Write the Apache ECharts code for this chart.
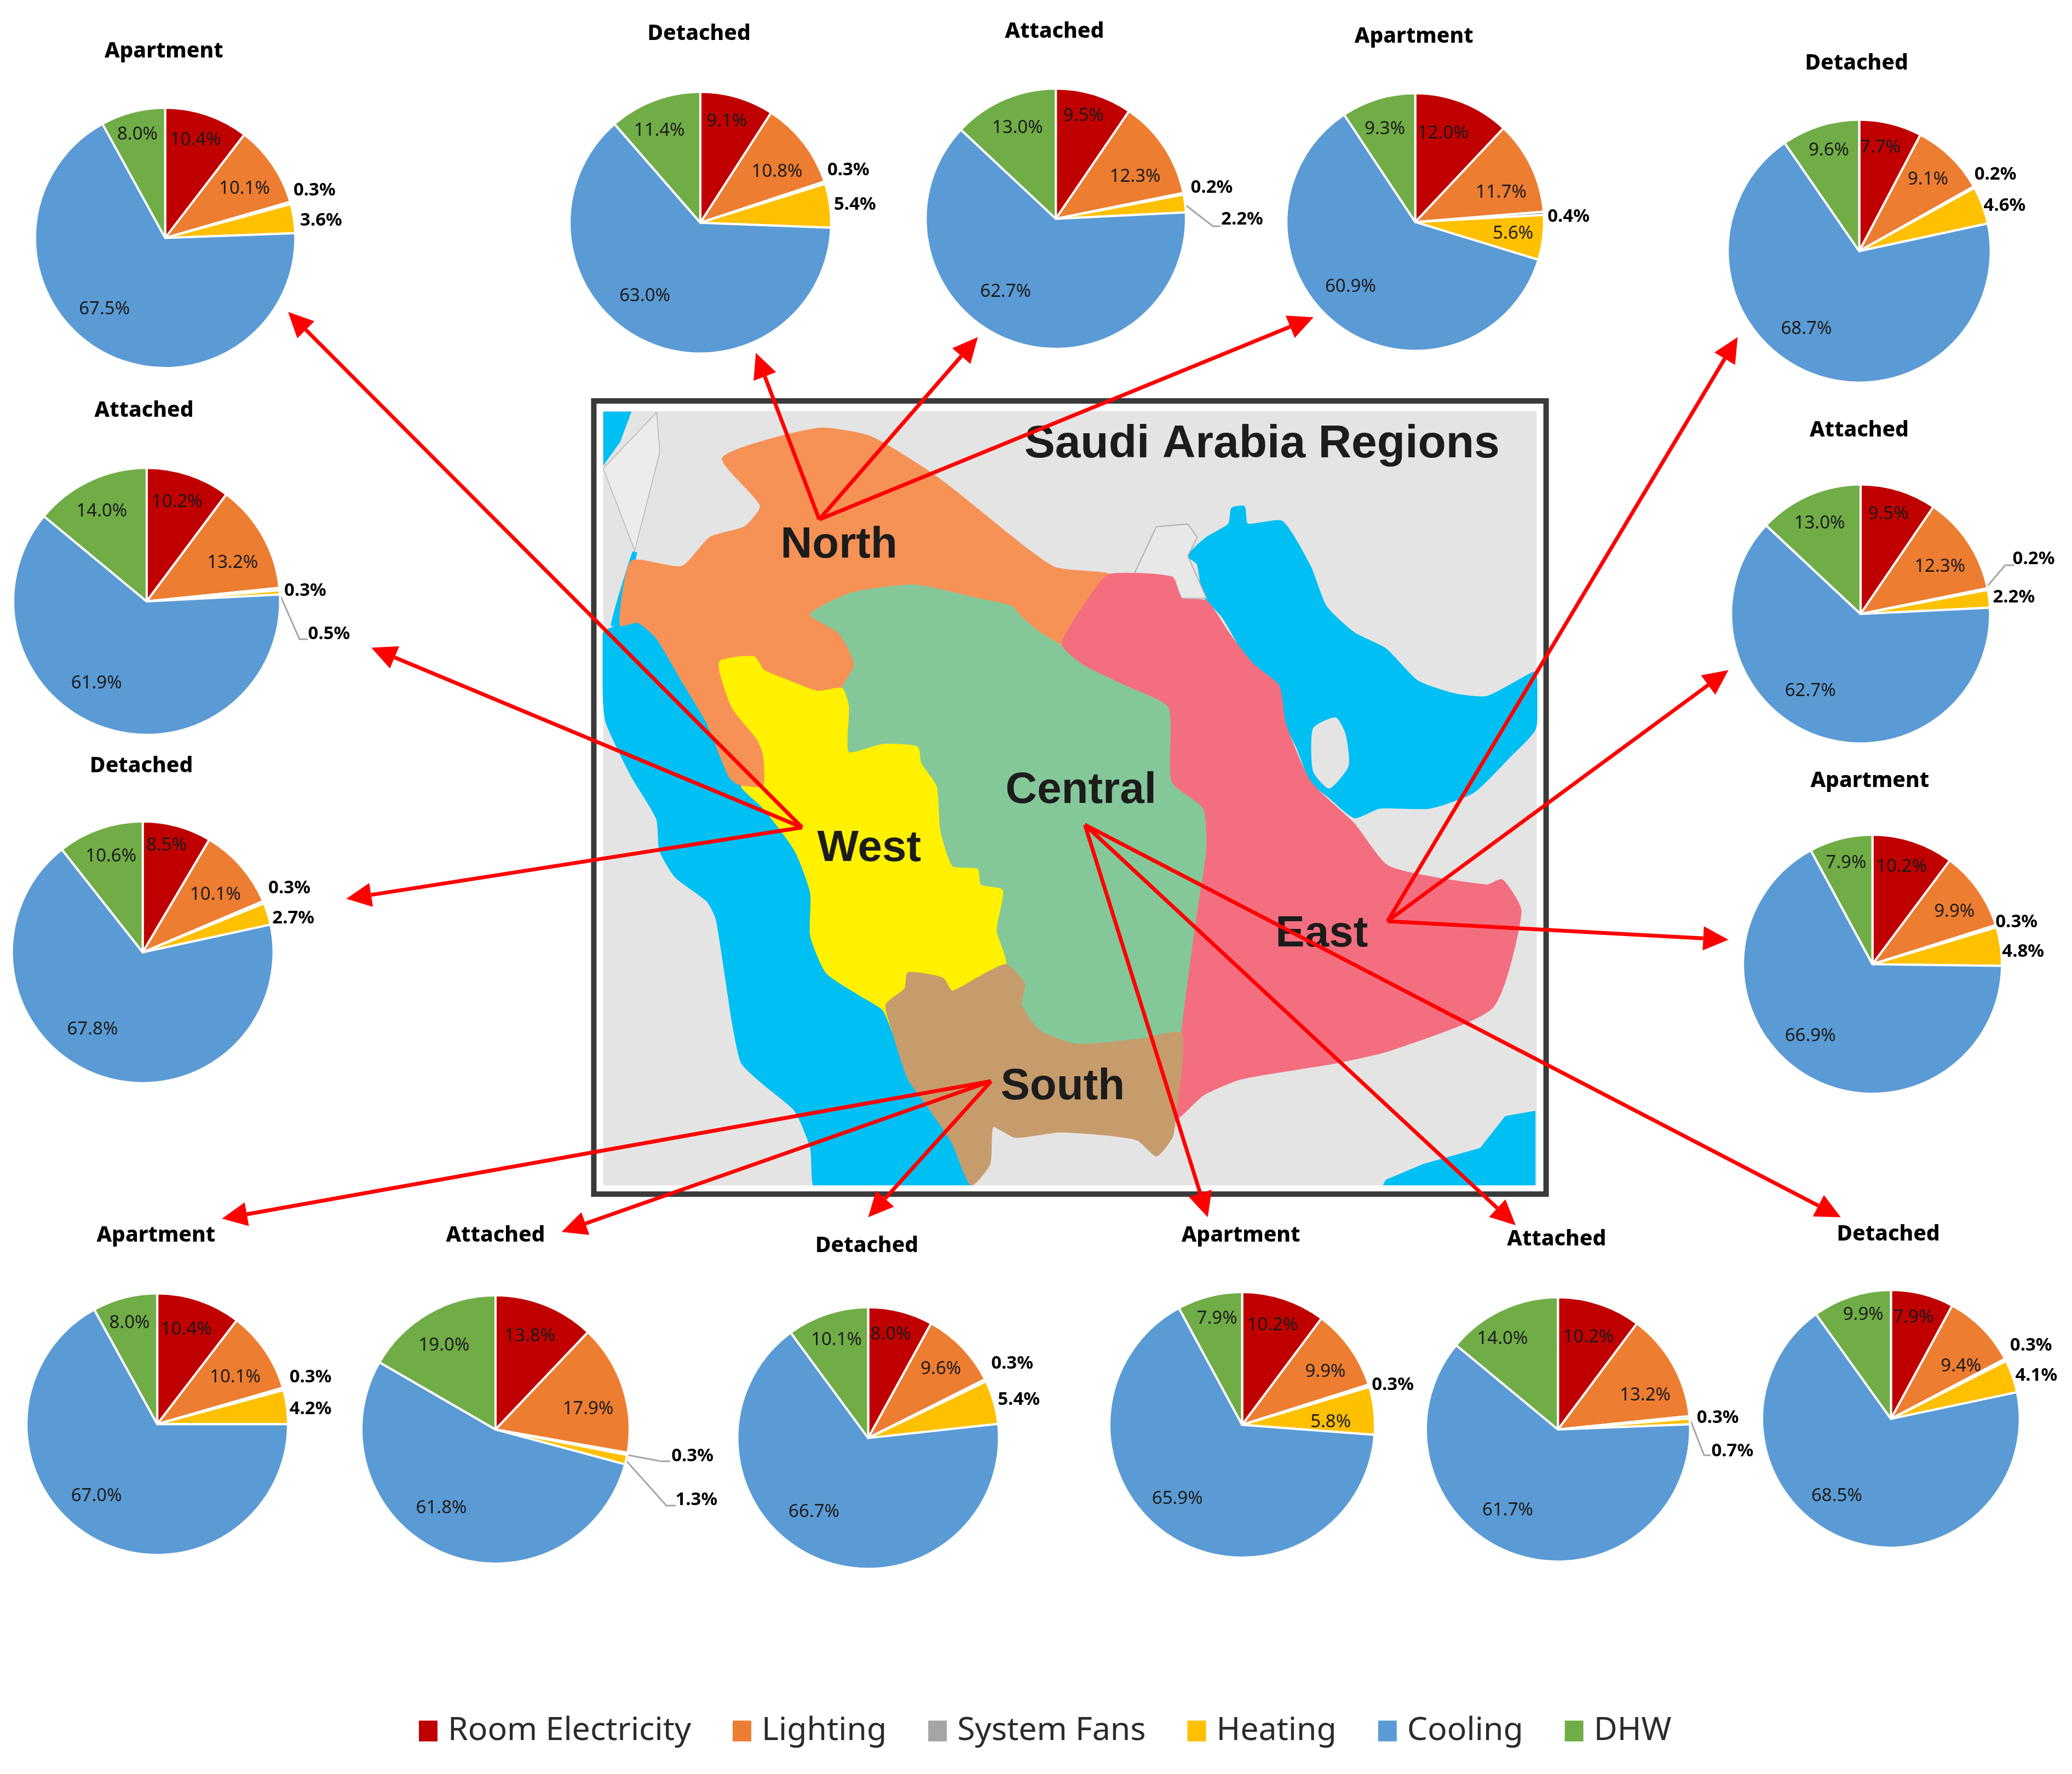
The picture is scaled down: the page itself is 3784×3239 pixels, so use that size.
<!DOCTYPE html>
<html>
<head>
<meta charset="utf-8">
<title>Saudi Arabia Regions</title>
<script src="https://cdn.jsdelivr.net/npm/echarts@6/dist/echarts.min.js"></script>
<style>
  html, body { margin: 0; background: #fff; }
  #chart { width: 3784px; height: 3239px; }
</style>
</head>
<body>
<div id="chart"></div>
<script>
var categories = ['Room Electricity', 'Lighting', 'System Fans', 'Heating', 'Cooling', 'DHW'];
var colors = ['#c00000', '#ed7d31', '#a5a5a5', '#ffc000', '#5b9bd5', '#70ad47'];

// shares per building type, same order as categories
var westApartment    = [10.4, 10.1, 0.3, 3.6, 67.5, 8.0];
var westAttached     = [10.2, 13.2, 0.3, 0.5, 61.9, 14.0];
var westDetached     = [8.5, 10.1, 0.3, 2.7, 67.8, 10.6];
var northDetached    = [9.1, 10.8, 0.3, 5.4, 63.0, 11.4];
var northAttached    = [9.5, 12.3, 0.2, 2.2, 62.7, 13.0];
var northApartment   = [12.0, 11.7, 0.4, 5.6, 60.9, 9.3];
var eastDetached     = [7.7, 9.1, 0.2, 4.6, 68.7, 9.6];
var eastAttached     = [9.5, 12.3, 0.2, 2.2, 62.7, 13.0];
var eastApartment    = [10.2, 9.9, 0.3, 4.8, 66.9, 7.9];
var southApartment   = [10.4, 10.1, 0.3, 4.2, 67.0, 8.0];
var southAttached    = [13.8, 17.9, 0.3, 1.3, 61.8, 19.0];
var southDetached    = [8.0, 9.6, 0.3, 5.4, 66.7, 10.1];
var centralApartment = [10.2, 9.9, 0.3, 5.8, 65.9, 7.9];
var centralAttached  = [10.2, 13.2, 0.3, 0.7, 61.7, 14.0];
var centralDetached  = [7.9, 9.4, 0.3, 4.1, 68.5, 9.9];

// page scale: layout below was read from the 1568px wide view
var K = 3784 / 1568;

var pies = [
  { name: 'Apartment', values: westApartment,    c: [125, 180], r: 98.5,  t: [124, 38],
    spots: [[148,105],[185,142],[238,143],[243,166],[79,233],[104,101]] },
  { name: 'Attached',  values: westAttached,     c: [111, 455], r: 101, t: [109, 310],
    spots: [[134,379],[176,425],[231,446],[249,479],[73,516],[77,386]] },
  { name: 'Detached',  values: westDetached,     c: [108, 720.5], r: 99,  t: [107, 579],
    spots: [[126,639],[163,676],[219,671],[222,694],[70,778],[84,647]] },
  { name: 'Detached',  values: northDetached,    c: [530, 168.5], r: 99,  t: [529, 25],
    spots: [[550,91],[588,129],[642,128],[647,154],[488,223],[499,98]] },
  { name: 'Attached',  values: northAttached,    c: [799, 165.5], r: 98.5,  t: [798, 23],
    spots: [[820,87],[859,133],[917,141],[940,165],[761,220],[770,96]] },
  { name: 'Apartment', values: northApartment,   c: [1071, 168], r: 97.5, t: [1070, 27],
    spots: [[1092,100],[1136,145],[1187,163],[1145,176],[1022,216],[1048,97]] },
  { name: 'Detached',  values: eastDetached,     c: [1407, 190], r: 99.5, t: [1405, 47],
    spots: [[1423,111],[1459,135],[1510,131],[1517,155],[1367,248],[1384,113]] },
  { name: 'Attached',  values: eastAttached,     c: [1408, 464.5], r: 98, t: [1407, 325],
    spots: [[1429,388],[1468,428],[1539,422],[1524,451],[1370,522],[1377,395]] },
  { name: 'Apartment', values: eastApartment,    c: [1417, 729.5], r: 98, t: [1415, 590],
    spots: [[1439,655],[1479,689],[1526,697],[1531,719],[1370,783],[1397,652]] },
  { name: 'Apartment', values: southApartment,   c: [119, 1077.5], r: 99, t: [118, 934],
    spots: [[141,1005],[178,1041],[235,1041],[235,1065],[73,1131],[98,1000]] },
  { name: 'Attached',  values: southAttached,    c: [375, 1081.5], r: 101.5, t: [375, 934],
    spots: [[401,1010],[445,1065],[524,1101],[527,1134],[334,1140],[336,1017]] },
  { name: 'Detached',  values: southDetached,    c: [657, 1088], r: 99, t: [656, 942],
    spots: [[674,1009],[712,1035],[766,1031],[771,1058],[616,1143],[633,1013]] },
  { name: 'Apartment', values: centralApartment, c: [940, 1078], r: 100.5, t: [939, 934],
    spots: [[963,1002],[1003,1037],[1054,1047],[1007,1075],[891,1133],[921,997]] },
  { name: 'Attached',  values: centralAttached,  c: [1179, 1081.5], r: 100, t: [1178, 937],
    spots: [[1202,1011],[1245,1055],[1300,1072],[1311,1097],[1141,1142],[1137,1012]] },
  { name: 'Detached',  values: centralDetached,  c: [1431, 1073.5], r: 97.5, t: [1429, 933],
    spots: [[1448,996],[1484,1033],[1537,1017],[1541,1040],[1390,1131],[1410,994]] }
];

// grey leader lines, full page px: 'pie-slice'
var leaders = {
  '1-3':  [[510,1083],[547,1167],[562,1167]],
  '4-3':  [[2162,372],[2215,413],[2229,413]],
  '7-2':  [[3627,1073],[3662,1032],[3678,1032]],
  '10-2': [[1143,2656],[1207,2668],[1224,2668]],
  '10-3': [[1142,2665],[1217,2749],[1234,2749]],
  '13-3': [[3088,2595],[3112,2657],[3124,2657]]
};

// arrows from the region name out to its pies, in the 1568px view
var arrows = [
  [620,393,572,267],[620,393,740,255],[620,393,994,240],
  [607,626,218,236],[607,626,281,490],[607,626,262,680],
  [1050,697,1315,255],[1050,697,1308,507],[1050,697,1308,711],
  [821,624,914,921],[821,624,1147,927],[821,624,1393,921],
  [750,818,168,922],[750,818,425,932],[750,818,657,921]
];

// map outlines, traced in a 1568x1568 crop of the frame area
var redSea = [[45,470],[60,460],[100,450],[130,480],[170,560],[210,640],[250,740],[265,760],[300,800],[350,880],[375,960],[375,1040],[400,1110],[450,1150],[490,1180],[505,1220],[530,1310],[560,1360],[600,1430],[630,1510],[630,1522],[385,1522],[375,1440],[350,1370],[300,1320],[265,1280],[250,1200],[225,1010],[210,975],[160,930],[135,880],[130,820],[90,740],[50,640],[45,590]];
var aqaba = [[92,318],[98,320],[80,400],[72,455],[58,455]];
var medSea = [[45,53],[90,53],[72,110],[45,155]];
var gulf = [[975,325],[1005,290],[1040,265],[1045,235],[1065,232],[1070,265],[1125,260],[1170,345],[1195,420],[1240,470],[1290,500],[1340,560],[1400,585],[1450,590],[1500,560],[1528,545],[1528,650],[1490,700],[1430,770],[1360,800],[1280,800],[1240,818],[1200,780],[1170,750],[1150,690],[1130,640],[1125,600],[1100,560],[1060,500],[1030,440],[1000,400],[990,340]];
var qatar = [[1175,650],[1210,630],[1225,660],[1230,720],[1200,762],[1175,730]];
var arabianSea = [[1280,1522],[1290,1500],[1350,1470],[1440,1440],[1480,1380],[1528,1370],[1528,1522]];
var kuwait = [[890,358],[925,270],[975,265],[990,290],[975,325],[1005,405],[965,405],[950,365]];
var north = [[235,140],[385,85],[470,100],[580,180],[760,345],[850,360],[820,400],[775,490],[740,470],[710,440],[695,420],[640,405],[540,380],[440,395],[375,435],[420,470],[445,530],[425,575],[385,580],[340,560],[300,540],[285,515],[230,525],[250,610],[290,670],[300,700],[300,760],[260,755],[245,740],[210,640],[170,560],[130,480],[100,450],[72,455],[90,335],[170,345],[215,290],[270,270],[295,230]];
var central = [[375,435],[440,395],[540,380],[640,405],[695,420],[710,440],[740,470],[775,495],[810,530],[880,570],[945,610],[950,750],[1000,800],[1005,880],[990,1000],[965,1225],[900,1235],[800,1245],[740,1220],[710,1170],[715,1130],[685,1095],[670,1030],[680,955],[645,945],[640,915],[600,910],[580,840],[575,760],[550,715],[545,685],[490,680],[435,695],[435,610],[425,575],[445,530],[420,470]];
var east = [[850,360],[950,365],[965,405],[1005,410],[1040,470],[1080,530],[1120,570],[1130,640],[1170,750],[1240,830],[1295,910],[1450,945],[1475,935],[1505,995],[1460,1175],[1300,1255],[1210,1280],[1060,1310],[1000,1340],[955,1385],[965,1225],[990,1000],[1005,880],[1000,800],[950,750],[945,610],[880,570],[810,530],[775,490],[820,400]];
var west = [[230,525],[285,515],[300,540],[340,560],[385,580],[425,575],[435,610],[435,695],[490,680],[545,685],[550,715],[575,760],[580,840],[600,910],[640,915],[645,945],[680,955],[670,1030],[685,1095],[640,1120],[600,1145],[585,1120],[530,1110],[525,1140],[495,1170],[505,1220],[490,1180],[450,1150],[400,1110],[375,1040],[375,960],[350,880],[300,800],[265,760],[300,760],[300,700],[290,670],[250,610]];
var south = [[685,1095],[715,1130],[710,1170],[740,1220],[800,1245],[900,1235],[965,1225],[955,1385],[950,1420],[925,1455],[895,1425],[840,1415],[770,1410],[700,1420],[665,1400],[660,1470],[630,1510],[600,1430],[560,1360],[530,1310],[505,1220],[495,1170],[525,1140],[530,1110],[585,1120],[600,1145],[640,1120]];

function mx(x) { return 1050 + x * 1800 / 1568; }
function my(y) { return 700 + y * 1520 / 1568; }
function mapPts(list) { return list.map(function (p) { return [mx(p[0]), my(p[1])]; }); }

function poly(list, fill) {
  return {
    type: 'polygon', z: 10,
    shape: { points: mapPts(list), smooth: 0.2 },
    style: { fill: fill, stroke: fill, lineWidth: 2 }
  };
}

function mapLabel(text, x, y, size) {
  return {
    type: 'text', z: 12, x: mx(x), y: my(y + 5),
    style: {
      text: text, fill: '#1c1c1c', align: 'center', verticalAlign: 'middle',
      font: 'bold ' + size + 'px "Liberation Sans"'
    }
  };
}

function arrowParts(a) {
  var x0 = a[0] * K, y0 = a[1] * K, x1 = a[2] * K, y1 = a[3] * K;
  var len = Math.sqrt((x1 - x0) * (x1 - x0) + (y1 - y0) * (y1 - y0));
  var ux = (x1 - x0) / len, uy = (y1 - y0) / len;
  var bx = x1 - ux * 46, by = y1 - uy * 46;
  return [
    { type: 'line', z: 20, shape: { x1: x0, y1: y0, x2: bx, y2: by }, style: { stroke: '#ff0000', lineWidth: 7 } },
    { type: 'polygon', z: 20, shape: { points: [[x1, y1], [bx - uy * 22, by + ux * 22], [bx + uy * 22, by - ux * 22]] }, style: { fill: '#ff0000' } }
  ];
}

var graphics = [
  { type: 'rect', z: 10, shape: { x: mx(45), y: my(52), width: mx(1530) - mx(45), height: my(1520) - my(52) },
    style: { fill: '#e4e4e4' } },
  { type: 'polygon', z: 10, shape: { points: mapPts(medSea) }, style: { fill: '#00bff3' } },
  poly(aqaba, '#00bff3'), poly(redSea, '#00bff3'),
  poly(gulf, '#00bff3'), poly(qatar, '#e4e4e4'),
  { type: 'polygon', z: 10, shape: { points: mapPts(arabianSea) }, style: { fill: '#00bff3' } },
  { type: 'polygon', z: 10, shape: { points: mapPts(kuwait) }, style: { fill: '#e8e8e8', stroke: '#b0b0b0', lineWidth: 2 } },
  { type: 'polyline', z: 10, shape: { points: mapPts([[45,160],[130,55],[135,130],[95,315],[45,160]]) }, style: { fill: '#ececec', stroke: '#b5b5b5', lineWidth: 1.5 } },
  poly(north, '#f79256'), poly(central, '#84c89a'), poly(east, '#f36f80'),
  poly(west, '#fff100'), poly(south, '#c69c6d'),
  // white strip inside the frame hides anything past the map edge
  { type: 'rect', z: 11, shape: { x: mx(30) + 8, y: my(33) + 8, width: mx(1545) - mx(30) - 16, height: my(1527) - my(33) - 16 },
    style: { fill: 'none', stroke: '#fff', lineWidth: 16 } },
  { type: 'rect', z: 11, shape: { x: mx(30), y: my(33), width: mx(1545) - mx(30), height: my(1527) - my(33) },
    style: { fill: 'none', stroke: '#3a3a3a', lineWidth: 10 } },
  mapLabel('Saudi Arabia Regions', 1093, 110, 84),
  mapLabel('North', 420, 300, 80),
  mapLabel('Central', 805, 762, 80),
  mapLabel('West', 468, 872, 80),
  mapLabel('East', 1188, 1033, 80),
  mapLabel('South', 776, 1320, 80)
];
arrows.forEach(function (a) { graphics = graphics.concat(arrowParts(a)); });

pies.forEach(function (p) {
  graphics.push({
    type: 'text', z: 30, x: p.t[0] * K, y: p.t[1] * K + 2,
    style: {
      text: p.name, fill: '#000', align: 'center', verticalAlign: 'middle',
      font: '800 39px "Noto Sans"'
    }
  });
});

function buildSeries(p, pieIndex) {
  return {
    type: 'pie',
    name: p.name,
    animation: false,
    center: [p.c[0] * K, p.c[1] * K],
    radius: p.r * K,
    startAngle: 90,
    clockwise: true,
    avoidLabelOverlap: false,
    silent: true,
    itemStyle: { borderColor: '#fff', borderWidth: 4 },
    label: {
      show: true,
      position: 'outside',
      fontFamily: 'Noto Sans',
      fontSize: 33,
      formatter: function (d) { return d.value.toFixed(1) + '%'; }
    },
    labelLine: { show: false },
    labelLayout: function (params) {
      var s = p.spots[params.dataIndex];
      var out = { x: s[0] * K, y: s[1] * K + 2, align: 'center', verticalAlign: 'middle' };
      var line = leaders[pieIndex + '-' + params.dataIndex];
      if (line) out.labelLinePoints = line;
      return out;
    },
    data: p.values.map(function (v, i) {
      var dx = p.spots[i][0] - p.c[0], dy = p.spots[i][1] - p.c[1];
      var outside = Math.sqrt(dx * dx + dy * dy) > p.r;
      return {
        name: categories[i],
        value: v,
        itemStyle: { color: colors[i] },
        label: { color: outside ? '#000' : '#1a1a1a', fontWeight: outside ? 700 : 400 },
        labelLine: leaders[pieIndex + '-' + i]
          ? { show: true, lineStyle: { color: '#a6a6a6', width: 3 } }
          : { show: false }
      };
    })
  };
}

var chart = echarts.init(document.getElementById('chart'), null, { renderer: 'canvas' });
chart.setOption({
  backgroundColor: '#fff',
  animation: false,
  legend: {
    left: 765,
    top: 3131,
    padding: 0,
    icon: 'rect',
    itemWidth: 34,
    itemHeight: 38,
    itemGap: 76,
    itemStyle: { borderWidth: 0 },
    selectedMode: false,
    data: categories,
    textStyle: { fontFamily: 'Noto Sans', fontSize: 59, color: '#2b2b2b', padding: [0, 0, 0, 14] }
  },
  graphic: { elements: graphics },
  series: pies.map(buildSeries)
});
</script>
</body>
</html>
